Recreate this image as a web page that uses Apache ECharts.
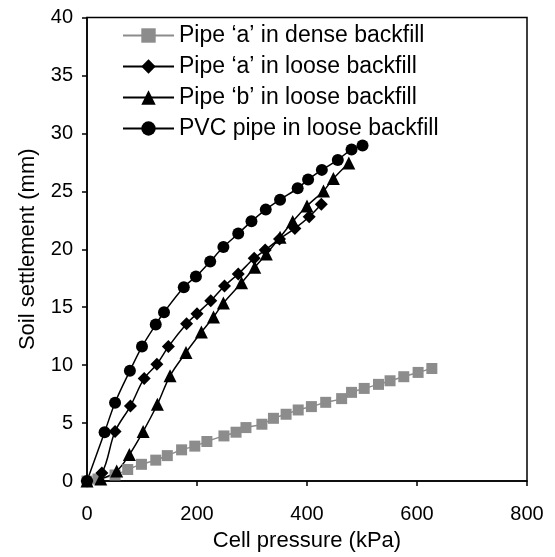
<!DOCTYPE html>
<html>
<head>
<meta charset="utf-8">
<script src="https://cdn.jsdelivr.net/npm/echarts@6/dist/echarts.min.js"></script>
<style>
html,body{margin:0;padding:0;background:#fff;}
#c{width:555px;height:557px;}
</style>
</head>
<body>
<div id="c"></div>
<script>
// Data
const seriesNames = [
  "Pipe \u2018a\u2019 in dense backfill",
  "Pipe \u2018a\u2019 in loose backfill",
  "Pipe \u2018b\u2019 in loose backfill",
  "PVC pipe in loose backfill"
];
const denseA_x = [0, 20, 51, 74, 99, 125, 146, 172, 196, 218, 249, 271, 289, 318, 339, 362, 384, 408, 434, 463, 481, 504, 530, 551, 576, 602, 627];
const denseA_y = [0, 0.17, 0.52, 0.99, 1.44, 1.8, 2.19, 2.69, 3.01, 3.41, 3.89, 4.21, 4.61, 4.9, 5.41, 5.76, 6.13, 6.42, 6.79, 7.11, 7.65, 7.99, 8.34, 8.65, 9.0, 9.37, 9.71];
const looseA_x = [0, 27, 51, 79, 104, 127, 148, 181, 200, 225, 250, 275, 304, 324, 350, 378, 404, 426];
const looseA_y = [0, 0.69, 4.27, 6.47, 8.85, 10.08, 11.6, 13.58, 14.44, 15.55, 16.83, 17.87, 19.22, 19.94, 20.88, 21.8, 22.81, 23.89];
const looseB_x = [0, 25, 54, 77, 102, 128, 151, 180, 208, 230, 248, 281, 305, 326, 351, 374, 400, 430, 448, 476];
const looseB_y = [0, 0.17, 0.86, 2.28, 4.27, 6.62, 9.08, 11.09, 12.85, 14.15, 15.36, 17.1, 18.45, 19.59, 21.03, 22.39, 23.74, 25.03, 26.1, 27.45];
const pvc_x = [0, 32, 51, 78, 100, 125, 140, 176, 198, 224, 248, 275, 299, 325, 351, 383, 402, 427, 456, 481, 501];
const pvc_y = [0, 4.21, 6.76, 9.51, 11.6, 13.5, 14.56, 16.73, 17.64, 18.95, 20.19, 21.35, 22.41, 23.42, 24.28, 25.26, 26.01, 26.85, 27.71, 28.61, 28.96];
const xTicks = [0, 200, 400, 600, 800];
const yTicks = [0, 5, 10, 15, 20, 25, 30, 35, 40];

function pairs(xs, ys) { return xs.map((x, i) => [x, ys[i]]); }

const FONT = "Liberation Sans, Arial, sans-serif";
const chart = echarts.init(document.getElementById('c'), null, {renderer: 'canvas'});

function mkSeries(name, data, symbol, size, color, lineColor, lw) {
  return {
    name: name, type: 'line', data: data, smooth: 0.35,
    symbol: symbol, symbolSize: size, showSymbol: true,
    itemStyle: {color: color, borderWidth: 0},
    lineStyle: {color: lineColor, width: lw},
    emphasis: {disabled: true},
    animation: false, z: 3
  };
}

chart.setOption({
  animation: false,
  backgroundColor: '#fff',
  grid: {left: 87, right: 28, top: 17.5, bottom: 74, show: true, borderColor: '#000', borderWidth: 1.5, backgroundColor: 'transparent'},
  legend: {
    orient: 'vertical', left: 122, top: 24, padding: 0, itemWidth: 51, itemHeight: 18, itemGap: 8,
    textStyle: {fontFamily: FONT, fontSize: 23, lineHeight: 22, color: '#000'},
    data: seriesNames
  },
  xAxis: {
    type: 'value', min: 0, max: 800, interval: 200,
    name: 'Cell pressure (kPa)', nameLocation: 'middle', nameGap: 49,
    nameTextStyle: {fontFamily: FONT, fontSize: 22, color: '#000'},
    axisLine: {show: true, onZero: false, lineStyle: {color: '#000', width: 1.5}},
    axisTick: {show: true, inside: false, length: 5, lineStyle: {color: '#000', width: 1.5}},
    axisLabel: {fontFamily: FONT, fontSize: 20, color: '#000', margin: 23,
      formatter: v => xTicks.includes(v) ? String(v) : ''},
    splitLine: {show: false}
  },
  yAxis: {
    type: 'value', min: 0, max: 40, interval: 5,
    name: 'Soil settlement (mm)', nameLocation: 'middle', nameGap: 48, nameRotate: 90,
    nameTextStyle: {fontFamily: FONT, fontSize: 22, color: '#000'},
    axisLine: {show: true, onZero: false, lineStyle: {color: '#000', width: 1.5}},
    axisTick: {show: true, inside: false, length: 5, lineStyle: {color: '#000', width: 1.5}},
    axisLabel: {fontFamily: FONT, fontSize: 20, color: '#000', margin: 14,
      formatter: v => yTicks.includes(v) ? String(v) : ''},
    splitLine: {show: false}
  },
  series: [
    mkSeries(seriesNames[0], pairs(denseA_x, denseA_y), 'rect', 11, '#8c8c8c', '#8c8c8c', 1.5),
    mkSeries(seriesNames[1], pairs(looseA_x, looseA_y), 'diamond', 13, '#000', '#000', 1.5),
    mkSeries(seriesNames[2], pairs(looseB_x, looseB_y), 'triangle', 13, '#000', '#000', 1.5),
    mkSeries(seriesNames[3], pairs(pvc_x, pvc_y), 'circle', 12, '#000', '#000', 1.5)
  ]
});
</script>
</body>
</html>
